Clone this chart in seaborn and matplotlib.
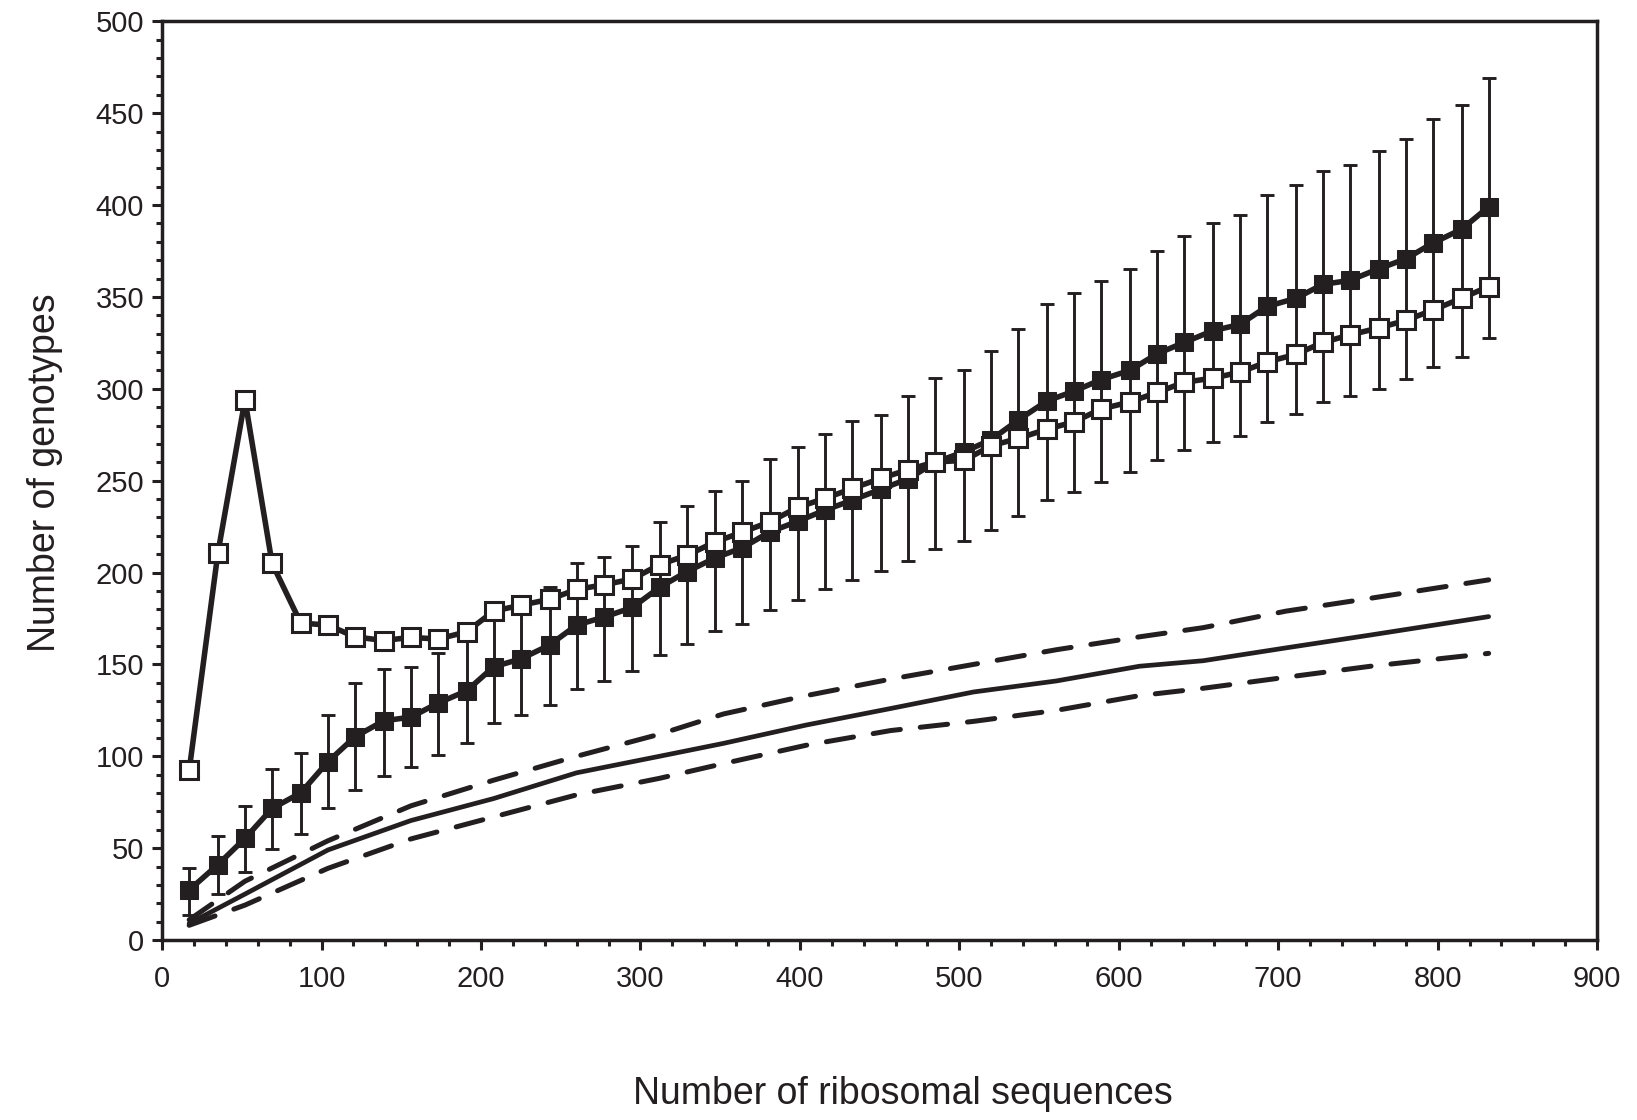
import matplotlib
matplotlib.use('Agg')

import matplotlib.pyplot as plt
from matplotlib.ticker import MultipleLocator
import seaborn as sns

# --- Data ---
# number of ribosomal sequences sampled
seq_counts = [17, 35, 52, 69, 87, 104, 121, 139, 156, 173, 191, 208, 225, 243, 260, 277,
              295, 312, 329, 347, 364, 381, 399, 416, 433, 451, 468, 485, 503, 520, 537, 555,
              572, 589, 607, 624, 641, 659, 676, 693, 711, 728, 745, 763, 780, 797, 815, 832]

# filled squares (mean) with error bar limits
filled_mean = [27.2, 41, 55.3, 71.6, 80.1, 97, 110.6, 119.3, 121.3, 128.9, 135.6, 148.7,
               153, 160.5, 171.4, 175.7, 181, 191.9, 200.4, 208, 213.5, 222, 228, 234,
               239.4, 245.4, 251, 260, 265.7, 272.3, 283, 293.4, 298.7, 305, 310, 319,
               325.2, 331.6, 335, 344.8, 349.2, 356.8, 359, 365.3, 370.7, 379.3, 386.8, 399]
err_top = [39, 56.5, 73, 93.3, 102, 122.3, 140, 147.4, 148.5, 156, 164, 179, 183, 192,
           205, 208.2, 214.7, 227.4, 236, 244.5, 250, 262, 268.5, 275.6, 282.7, 285.6, 296,
           305.8, 310, 320.7, 332.7, 345.9, 352, 358.8, 365.3, 375, 383, 390.3, 394.5, 405.4,
           411, 418.4, 421.7, 429.6, 436, 446.6, 454.5, 469.3]
err_bottom = [13.6, 25, 37.2, 49.5, 57.8, 72, 81.5, 89, 94.3, 100.8, 107.3, 118, 122.4,
              127.9, 136.6, 141, 146.4, 155, 161.3, 168, 172, 179.8, 185.3, 191, 196, 200.7,
              206.3, 212.7, 217, 223.3, 231, 239.5, 244, 249.5, 254.8, 261, 266.6, 271, 274.2,
              282, 286.5, 292.6, 296, 300, 305.5, 312, 317.5, 327.4]

# open squares
open_vals = [92.3, 210.5, 294, 205, 172.5, 171.4, 165, 163, 164.7, 163.8, 167.7, 179, 182.2,
             185.4, 190.8, 193.3, 196.5, 204.3, 209.3, 216.7, 222, 227.5, 235.6, 240.4, 245.8,
             251.3, 256, 260.2, 261, 269, 273, 278, 282, 289, 292.8, 298, 303.5, 305.8, 309,
             314.6, 318.7, 325.2, 329.3, 333.1, 337.2, 342.8, 349.3, 355.6]

# rarefaction curve and its confidence limits
curve_x = [17, 52, 104, 156, 208, 260, 312, 352, 404, 457, 509, 561, 613, 653, 705, 758, 832]
curve_mid = [9, 25, 49, 65, 77, 91, 100, 107, 117, 126, 135, 141, 149, 152, 159, 166, 176]
curve_hi = [11, 32, 54, 73, 87, 100, 112, 123, 133, 142, 150, 158, 165, 170, 179, 186, 196]
curve_lo = [8, 19, 39, 55, 67, 79, 88, 96, 106, 114, 119, 125, 133, 137, 143, 149, 156]

INK = "#231f20"

sns.set_style("ticks")
plt.rcParams['font.family'] = ['Liberation Sans', 'DejaVu Sans']

fig = plt.figure(figsize=(16.37, 11.2), dpi=100)
ax = fig.add_axes([0.099, 0.1607, 0.8766, 0.8203])

# rarefaction curves
sns.lineplot(x=curve_x, y=curve_mid, ax=ax, color=INK, lw=3.4, zorder=2)
for band in (curve_hi, curve_lo):
    sns.lineplot(x=curve_x, y=band, ax=ax, color=INK, lw=3.6,
                 linestyle=(0, (5.5, 4)), dash_capstyle='round', zorder=2)

# filled squares with error bars
yerr = [[m - b for m, b in zip(filled_mean, err_bottom)],
        [t - m for m, t in zip(filled_mean, err_top)]]
ax.errorbar(seq_counts, filled_mean, yerr=yerr, fmt='none', ecolor=INK,
            elinewidth=2.1, capsize=5, capthick=2.1, zorder=3)
sns.lineplot(x=seq_counts, y=filled_mean, ax=ax, color=INK, lw=4, marker='s',
             markersize=13, markerfacecolor=INK, markeredgecolor=INK, zorder=4)

# open squares
sns.lineplot(x=seq_counts, y=open_vals, ax=ax, color=INK, lw=4, marker='s',
             markersize=13, markerfacecolor='white', markeredgecolor=INK,
             markeredgewidth=2.2, zorder=5)

ax.set_xlim(0, 900)
ax.set_ylim(0, 500)
ax.xaxis.set_major_locator(MultipleLocator(100))
ax.xaxis.set_minor_locator(MultipleLocator(20))
ax.yaxis.set_major_locator(MultipleLocator(50))
ax.yaxis.set_minor_locator(MultipleLocator(10))
ax.tick_params(which='both', direction='out', color=INK, width=2.2, labelcolor=INK)
ax.tick_params(which='major', length=7, labelsize=21)
ax.tick_params(which='minor', length=4)
ax.tick_params(axis='x', pad=11)
ax.tick_params(axis='y', pad=6)

for spine in ax.spines.values():
    spine.set_linewidth(2.5)
    spine.set_color(INK)

ax.set_xlabel("Number of ribosomal sequences", fontsize=27, color=INK, labelpad=60)
ax.set_ylabel("Number of genotypes", fontsize=27, color=INK, labelpad=23)
ax.xaxis.label.set_x(0.516)
ax.yaxis.label.set_y(0.509)

fig.savefig("out.png", dpi=100, facecolor='white')
